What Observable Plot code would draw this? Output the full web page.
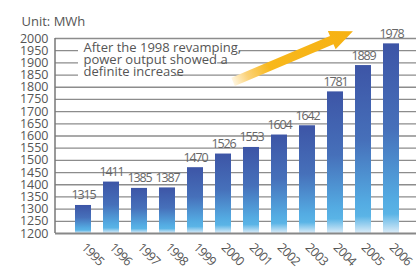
<!DOCTYPE html>
<html><head><meta charset="utf-8">
<script src="https://cdn.jsdelivr.net/npm/d3@7"></script>
<script src="https://cdn.jsdelivr.net/npm/@observablehq/plot@0.6"></script>
<style>
body{margin:0;background:#fff} svg{display:block}
.vlab text{letter-spacing:-1.1px}
.xlab text{letter-spacing:-0.8px}
</style>
</head>
<body><div id="chart"></div>
<script>
const years = ["1995","1996","1997","1998","1999","2000","2001","2002","2003","2004","2005","2006"];
const output = [1315,1411,1385,1387,1470,1526,1553,1604,1642,1781,1889,1978];
const yTicks = d3.range(1200, 2001, 50);
const unitLabel = "Unit: MWh";
const noteLines = ["After the 1998 revamping,", "power output showed a", "definite increase"];
// annotation arrow, in data space: band + fraction of step, value
const arrowFrom = {year: "2000", shift: 0.36, value: 1820};
const arrowTo = {year: "2004", shift: 0.64, value: 2028};

const data = years.map((y, i) => ({year: y, value: output[i]}));
const font = "'Open Sans', 'Noto Sans', sans-serif";
const noteFont = 13, noteDx = 28, noteDy = 22, noteLH = 12;

function noteBox(index, scales, values, dim) {
  const ctx = document.createElement("canvas").getContext("2d");
  ctx.font = `${noteFont}px 'Open Sans'`;
  const g = d3.create("svg:g");
  const x0 = dim.marginLeft + noteDx;
  const cy = dim.marginTop + noteDy;
  noteLines.forEach((t, i) => {
    const w = ctx.measureText(t).width;
    const trim = [2, 10, 8][i];
    g.append("rect").attr("x", x0 - 5).attr("y", cy + (i - 1) * noteLH - 7)
      .attr("width", w + 5 - trim).attr("height", noteLH + 1).attr("fill", "white");
  });
  return g.node();
}

function decor(index, scales, values, dim) {
  const g = d3.create("svg:g");
  const defs = g.append("defs");
  const bg = defs.append("linearGradient").attr("id", "barGrad")
    .attr("x1", 0).attr("y1", 0).attr("x2", 0).attr("y2", 1);
  [[0, "#3d55a6"], [0.45, "#4670ba"], [0.82, "#54abe2"], [0.9, "#5ab4e6"], [1, "#dbecf8"]]
    .forEach(([o, c]) => bg.append("stop").attr("offset", o).attr("stop-color", c));
  const x = scales.x, y = scales.y;
  const step = x(years[1]) - x(years[0]);
  const bw = x.bandwidth ? x.bandwidth() : 0;
  const px = p => x(p.year) + bw / 2 + p.shift * step;
  const T = [px(arrowFrom), y(arrowFrom.value)];
  const H = [px(arrowTo), y(arrowTo.value)];
  const dx = H[0] - T[0], dy = H[1] - T[1], L = Math.hypot(dx, dy);
  const u = [dx / L, dy / L], n = [-u[1], u[0]];
  const hl = 23, hw = 10, sw = 4.5;
  const B = [H[0] - u[0] * hl, H[1] - u[1] * hl];
  const pt = (P, k) => [P[0] + n[0] * k, P[1] + n[1] * k];
  const pts = [pt(T, sw), pt(B, sw), pt(B, hw), H, pt(B, -hw), pt(B, -sw), pt(T, -sw)];
  const ag = defs.append("linearGradient").attr("id", "arrGrad")
    .attr("gradientUnits", "userSpaceOnUse")
    .attr("x1", T[0]).attr("y1", T[1]).attr("x2", H[0]).attr("y2", H[1]);
  [[0, "#fff6e0"], [0.12, "#fbd278"], [0.3, "#f8b81c"], [1, "#f6b112"]]
    .forEach(([o, c]) => ag.append("stop").attr("offset", o).attr("stop-color", c));
  g.append("line").attr("x1", dim.marginLeft).attr("x2", dim.marginLeft)
    .attr("y1", y(2000)).attr("y2", y(1200)).attr("stroke", "#777").attr("stroke-width", 1.5);
  g.append("polygon").attr("points", pts.map(p => p.join(",")).join(" "))
    .attr("fill", "url(#arrGrad)");
  return g.node();
}

const chart = Plot.plot({
  width: 418, height: 269,
  marginLeft: 55, marginRight: 2, marginTop: 38, marginBottom: 36,
  style: {fontFamily: font, background: "#fff", overflow: "visible"},
  x: {type: "band", domain: years, range: [67.9, 405.8], paddingInner: 0.43, paddingOuter: 0.215},
  y: {domain: [1200, 2000], range: [233, 38]},
  marks: [
    Plot.ruleY(yTicks.filter(d => d > 1200), {stroke: "#8c8c8c", strokeWidth: 1.3}),
    Plot.barY(data, {x: "year", y1: 1200, y2: "value", fill: "url(#barGrad)"}),
    Plot.ruleY([1200], {stroke: "#888", strokeWidth: 2}),
    Plot.axisY(yTicks, {tickSize: 0, tickPadding: 7, tickFormat: d => String(d), fontSize: 12.5, color: "#555", label: null}),
    Plot.axisX({tickRotate: 45, tickSize: 0, tickPadding: 12, fontSize: 12.5, color: "#555", label: null, className: "xlab"}),
    Plot.text(data, {x: "year", y: "value", text: d => String(d.value), dy: -10, fontSize: 12.5, fill: "#666", className: "vlab"}),
    Plot.text([unitLabel], {frameAnchor: "top-left", textAnchor: "start", dx: -34, dy: -22, fontSize: 13, fill: "#555"}),
    noteBox,
    Plot.text([noteLines.join("\n")], {frameAnchor: "top-left", textAnchor: "start", lineAnchor: "middle", dx: noteDx, dy: noteDy, fontSize: noteFont, lineHeight: noteLH / noteFont, fill: "#555"}),
    decor
  ]
});
document.getElementById("chart").appendChild(chart);
</script>
</body></html>
